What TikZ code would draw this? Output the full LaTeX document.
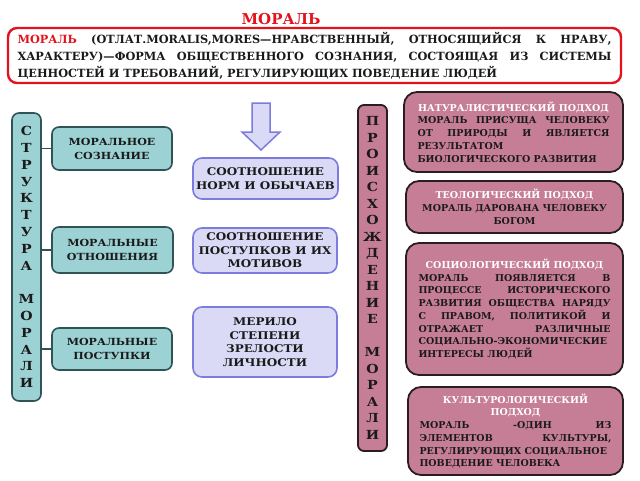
\documentclass[tikz,border=0pt]{standalone}
\usepackage{fontspec}
\setmainfont{DejaVu Serif}
\newfontfamily\widefont{DejaVu Serif}[FakeStretch=1.13]
\definecolor{redc}{HTML}{E3121B}
\definecolor{tealf}{HTML}{9DD2D5}
\definecolor{tealb}{HTML}{2F5457}
\definecolor{lavf}{HTML}{DADAF6}
\definecolor{lavb}{HTML}{7C7CDC}
\definecolor{pinkf}{HTML}{C67E96}
\definecolor{pinkb}{HTML}{2A1D22}
\definecolor{txt}{HTML}{1A1A1A}
\begin{document}
\begin{tikzpicture}[x=1pt,y=-1pt,
  hdr/.style={draw=redc, line width=2.4pt, rounded corners=9pt, fill=white, inner sep=0pt,
    text width=594pt, align=justify, text=txt, font=\bfseries\fontsize{11.3}{17}\selectfont},
  tealbox/.style={draw=tealb, fill=tealf, line width=1.6pt, rounded corners=7pt, align=center,
    inner sep=0pt, text=txt, font=\widefont\bfseries\fontsize{9.8}{14}\selectfont},
  lbar/.style={font=\widefont\bfseries\fontsize{12.5}{16.8}\selectfont},
  pbar/.style={font=\widefont\bfseries\fontsize{12.5}{16.5}\selectfont},
  lavbox/.style={draw=lavb, fill=lavf, line width=1.6pt, rounded corners=9pt, align=center,
    inner sep=0pt, text=txt, font=\widefont\bfseries\fontsize{10.6}{13.5}\selectfont},
  pinkbox/.style={draw=pinkb, fill=pinkf, line width=1.8pt, rounded corners=13pt, align=justify,
    inner sep=0pt, text width=192pt, text=txt, font=\bfseries\fontsize{9.5}{12.7}\selectfont},
  pinkbar/.style={draw=pinkb, fill=pinkf, line width=1.8pt, rounded corners=6pt, align=center,
    inner sep=0pt, text=txt},
  conn/.style={draw=tealb, line width=1.6pt}
]
\useasboundingbox (0,0) rectangle (640,480);

% title and definition
\node[text=redc, font=\bfseries\fontsize{15}{18}\selectfont] (title) at (281,19) {МОРАЛЬ};
\node[hdr, minimum width=613pt, minimum height=55pt] (def) at (314.5,55.5)
 {{\color{redc}МОРАЛЬ} (ОТЛАТ.MORALIS,MORES—НРАВСТВЕННЫЙ, ОТНОСЯЩИЙСЯ К НРАВУ,\linebreak
  ХАРАКТЕРУ)—ФОРМА ОБЩЕСТВЕННОГО СОЗНАНИЯ, СОСТОЯЩАЯ ИЗ СИСТЕМЫ\linebreak
  ЦЕННОСТЕЙ И ТРЕБОВАНИЙ, РЕГУЛИРУЮЩИХ ПОВЕДЕНИЕ ЛЮДЕЙ};

% structure bar
\node[tealbox, lbar, minimum width=29pt, minimum height=288pt] (sbar) at (26.5,257)
 {С\\Т\\Р\\У\\К\\Т\\У\\Р\\А\\[16.8pt]М\\О\\Р\\А\\Л\\И};

\node[tealbox, minimum width=120pt, minimum height=43pt] (s1) at (112,148.5) {МОРАЛЬНОЕ\\СОЗНАНИЕ};
\node[tealbox, minimum width=121pt, minimum height=46pt] (s2) at (112.5,250) {МОРАЛЬНЫЕ\\ОТНОШЕНИЯ};
\node[tealbox, minimum width=120pt, minimum height=42pt] (s3) at (112,349) {МОРАЛЬНЫЕ\\ПОСТУПКИ};

\draw[conn] (sbar.east |- s1.west) -- (s1.west);
\draw[conn] (sbar.east |- s2.west) -- (s2.west);
\draw[conn] (sbar.east |- s3.west) -- (s3.west);

% arrow
\draw[draw=lavb, fill=lavf, line width=1.5pt, line join=miter]
  (252,103) -- (270,103) -- (270,132) -- (280,132) -- (261,150) -- (242,132) -- (252,132) -- cycle;

\node[lavbox, minimum width=145pt, minimum height=41pt] (l1) at (265.5,178.5) {СООТНОШЕНИЕ\\НОРМ И ОБЫЧАЕВ};
\node[lavbox, minimum width=144pt, minimum height=45pt] (l2) at (265,250.5) {СООТНОШЕНИЕ\\ПОСТУПКОВ И ИХ\\МОТИВОВ};
\node[lavbox, minimum width=144pt, minimum height=70pt] (l3) at (265,342) {МЕРИЛО\\СТЕПЕНИ\\ЗРЕЛОСТИ\\ЛИЧНОСТИ};

% origin bar
\node[pinkbar, pbar, minimum width=29pt, minimum height=346pt] (obar) at (372.5,278)
 {П\\Р\\О\\И\\С\\Х\\О\\Ж\\Д\\Е\\Н\\И\\Е\\[16.5pt]М\\О\\Р\\А\\Л\\И};

% approaches
\node[pinkbox, minimum width=219pt, minimum height=80pt] (p1) at (513.5,132)
 {{\centering\color{white}НАТУРАЛИСТИЧЕСКИЙ ПОДХОД\par}
  МОРАЛЬ ПРИСУЩА ЧЕЛОВЕКУ\linebreak ОТ ПРИРОДЫ И ЯВЛЯЕТСЯ\linebreak РЕЗУЛЬТАТОМ\newline БИОЛОГИЧЕСКОГО РАЗВИТИЯ};
\node[pinkbox, minimum width=217pt, minimum height=52pt, align=center] (p2) at (514.5,207)
 {{\color{white}ТЕОЛОГИЧЕСКИЙ ПОДХОД}\\МОРАЛЬ ДАРОВАНА ЧЕЛОВЕКУ\\БОГОМ};
\node[pinkbox, minimum width=217pt, minimum height=132pt] (p3) at (514.5,309)
 {{\centering\color{white}СОЦИОЛОГИЧЕСКИЙ ПОДХОД\par}
  МОРАЛЬ ПОЯВЛЯЕТСЯ В\linebreak ПРОЦЕССЕ ИСТОРИЧЕСКОГО\linebreak РАЗВИТИЯ ОБЩЕСТВА НАРЯДУ\linebreak
  С ПРАВОМ, ПОЛИТИКОЙ И\linebreak ОТРАЖАЕТ РАЗЛИЧНЫЕ\linebreak СОЦИАЛЬНО-ЭКОНОМИЧЕСКИЕ\newline ИНТЕРЕСЫ ЛЮДЕЙ};
\node[pinkbox, minimum width=215pt, minimum height=88pt] (p4) at (515.5,431)
 {{\centering\color{white}КУЛЬТУРОЛОГИЧЕСКИЙ\\ПОДХОД\par}
  МОРАЛЬ -ОДИН ИЗ\linebreak ЭЛЕМЕНТОВ КУЛЬТУРЫ,\linebreak РЕГУЛИРУЮЩИХ СОЦИАЛЬНОЕ\newline ПОВЕДЕНИЕ ЧЕЛОВЕКА};
\end{tikzpicture}
\end{document}
